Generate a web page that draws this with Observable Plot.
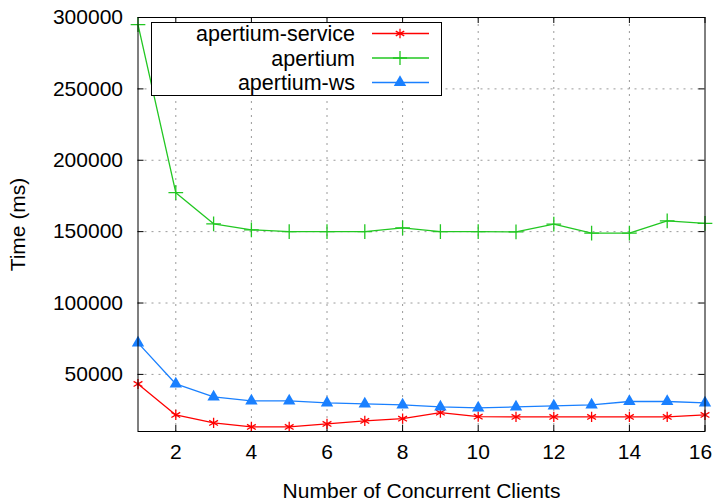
<!DOCTYPE html>
<html><head><meta charset="utf-8">
<script src="https://cdn.jsdelivr.net/npm/d3@7"></script>
<script src="https://cdn.jsdelivr.net/npm/@observablehq/plot@0.6"></script>
<style>
body{margin:0;background:#fff;}
#wrap{position:relative;width:713px;height:500px;font-family:"Liberation Sans",Arial,sans-serif;}
#legend{position:absolute;left:0;top:0;pointer-events:none;}
</style></head><body><div id="wrap"></div>
<script>
const clients = [1,2,3,4,5,6,7,8,9,10,11,12,13,14,15,16];
const apertiumService = [43300,21600,16000,13200,13200,15300,17400,19000,23200,20400,20200,20200,20200,20200,20200,21600];
const apertium = [295000,177300,155500,151300,150000,150000,150000,152700,150000,150000,149800,155300,148900,148900,157600,155800];
const apertiumWs = [72100,43300,34200,31400,31400,30000,29300,28600,27200,26500,27200,27900,28600,31000,31000,30000];
const seriesNames = ["apertium-service","apertium","apertium-ws"];
const seriesColors = ["#ff0000","#22c722","#1a80ff"];
const seriesSymbols = ["asterisk","plus","triangle"];
const xTickLabels = [2,4,6,8,10,12,14,16];
const yTickLabels = [50000,100000,150000,200000,250000,300000];

const rows = [];
[apertiumService, apertium, apertiumWs].forEach((vals, s) => {
  vals.forEach((v, i) => rows.push({series: seriesNames[s], x: clients[i], y: v}));
});

const W = 713, H = 500, mL = 137.5, mR = 8.5, mT = 17, mB = 69;
const plotW = W - mL - mR, plotH = H - mT - mB;
const font = '"Liberation Sans", Arial, sans-serif';
const lastX = xTickLabels[xTickLabels.length - 1];

const marks = [
  Plot.gridX(xTickLabels.filter(d => d < lastX), {stroke: "#9a9a9a", strokeOpacity: 1, strokeDasharray: "2,5"}),
  Plot.gridY(yTickLabels.filter(d => d < 300000), {stroke: "#9a9a9a", strokeOpacity: 1, strokeDasharray: "2,5"}),
  Plot.tickX(xTickLabels, {x: d => d, insetTop: plotH - 6, stroke: "#000"}),
  Plot.tickX(xTickLabels, {x: d => d, insetBottom: plotH - 6, stroke: "#000"}),
  Plot.tickY(yTickLabels, {y: d => d, insetRight: plotW - 6, stroke: "#000"}),
  Plot.tickY(yTickLabels, {y: d => d, insetLeft: plotW - 6, stroke: "#000"}),
  Plot.axisX(xTickLabels.filter(d => d < lastX), {tickSize: 0, tickPadding: 13, fontSize: 21, label: "Number of Concurrent Clients", labelAnchor: "center", labelArrow: "none", labelOffset: 66}),
  Plot.axisX([lastX], {tickSize: 0, tickPadding: 13, fontSize: 21, dx: -4.5, label: null}),
  Plot.axisY(yTickLabels, {tickSize: 0, tickPadding: 15, fontSize: 21, tickFormat: d3.format("d"), label: "Time (ms)", labelAnchor: "center", labelArrow: "none", labelOffset: 128})
];
seriesNames.forEach((name, s) => {
  const data = rows.filter(r => r.series === name);
  marks.push(Plot.line(data, {x: "x", y: "y", stroke: seriesColors[s], strokeWidth: 1.3}));
  if (seriesSymbols[s] === "triangle") {
    marks.push(Plot.dot(data, {x: "x", y: "y", symbol: "triangle", r: 4.6, fill: seriesColors[s], stroke: "none"}));
  } else {
    marks.push(Plot.dot(data, {x: "x", y: "y", symbol: seriesSymbols[s], r: 4.8, stroke: seriesColors[s], fill: "none", strokeWidth: 1.3}));
  }
});
marks.push(Plot.frame({stroke: "#000"}));

const chart = Plot.plot({
  width: W, height: H, marginLeft: mL, marginRight: mR, marginTop: mT, marginBottom: mB,
  style: {fontFamily: font, fontSize: "21px", color: "#000", background: "#fff", overflow: "visible"},
  x: {domain: [1, 16]},
  y: {domain: [10000, 300000]},
  marks
});
const wrap = document.getElementById("wrap");
wrap.appendChild(chart);

// legend overlay
const svg = d3.select(wrap).append("svg").attr("id", "legend").attr("width", W).attr("height", H);
svg.append("rect").attr("x", 151.5).attr("y", 22.5).attr("width", 290).attr("height", 73)
  .attr("fill", "#fff").attr("stroke", "#000");
const symMap = {asterisk: d3.symbolAsterisk, plus: d3.symbolPlus, triangle: d3.symbolTriangle};
seriesNames.forEach((name, s) => {
  const cy = 33.5 + s * 24.5;
  svg.append("text").attr("x", 355).attr("y", cy).attr("dy", "0.35em").attr("text-anchor", "end")
    .attr("font-family", font).attr("font-size", 21.5).attr("fill", "#000").text(name);
  svg.append("line").attr("x1", 372).attr("x2", 429).attr("y1", cy).attr("y2", cy)
    .attr("stroke", seriesColors[s]).attr("stroke-width", 1.3);
  const p = d3.symbol(symMap[seriesSymbols[s]], Math.PI * 4.6 * 4.6)();
  const path = svg.append("path").attr("d", p).attr("transform", `translate(400,${cy})`);
  if (seriesSymbols[s] === "triangle") path.attr("fill", seriesColors[s]);
  else path.attr("fill", "none").attr("stroke", seriesColors[s]).attr("stroke-width", 1.3);
});
</script>
</body></html>
